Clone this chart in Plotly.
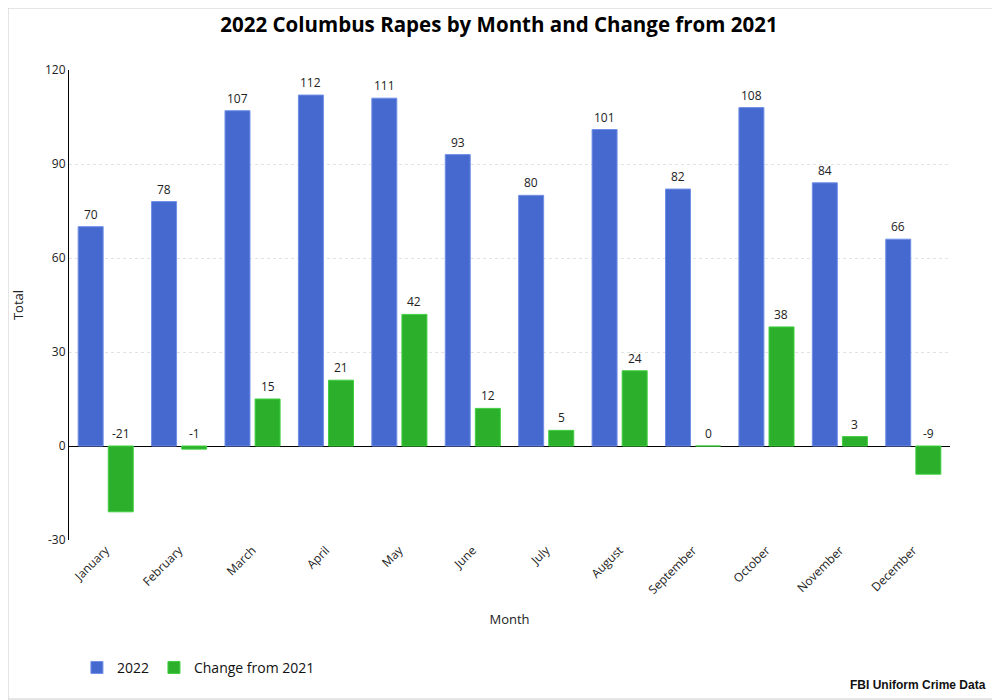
import plotly.graph_objects as go

months = ["January", "February", "March", "April", "May", "June", "July",
          "August", "September", "October", "November", "December"]
totals_2022 = [70, 78, 107, 112, 111, 93, 80, 101, 82, 108, 84, 66]
change_2021 = [-21, -1, 15, 21, 42, 12, 5, 24, 0, 38, 3, -9]
y_ticks = [-30, 0, 30, 60, 90, 120]
y_tick_labels = ["-30", "0", "30", "60", "90", "120"]

FONT = "Open Sans, Noto Sans, sans-serif"

fig = go.Figure()
fig.add_trace(go.Bar(
    x=months, y=totals_2022, name="2022",
    marker=dict(color="#4669cf", line=dict(color="#6f8fe6", width=1)),
    hoverinfo="x+y",
))
fig.add_trace(go.Bar(
    x=months, y=change_2021, name="Change from 2021",
    marker=dict(color="#2cb02c", line=dict(color="#3fcf3f", width=1)),
    hoverinfo="x+y",
))

# value labels above bars (labels for negative values sit above zero)
for m, v in zip(months, totals_2022):
    fig.add_annotation(x=m, y=max(v, 0), text=str(v), xref="x", yref="y",
                       xshift=-15, yshift=2, yanchor="bottom", showarrow=False,
                       font=dict(family=FONT, size=12, color="#222"))
for m, v in zip(months, change_2021):
    fig.add_annotation(x=m, y=max(v, 0), text=str(v), xref="x", yref="y",
                       xshift=15, yshift=2, yanchor="bottom", showarrow=False,
                       font=dict(family=FONT, size=12, color="#222"))

fig.add_annotation(x=1, y=0, xref="paper", yref="paper", xanchor="right",
                   yanchor="bottom", xshift=38, yshift=-154,
                   text="<b>FBI Uniform Crime Data</b>", showarrow=False,
                   font=dict(family="Liberation Sans, Arial, sans-serif", size=12, color="#111"))

fig.add_shape(type="rect", xref="paper", yref="paper", x0=-0.0692, x1=1.0556,
              y0=-0.3383, y1=1.1319, line=dict(color="#cccccc", width=1), layer="below")

fig.update_layout(
    width=1000, height=700,
    margin=dict(l=61, r=58, t=62, b=168, autoexpand=False),
    paper_bgcolor="white", plot_bgcolor="white",
    barmode="group", bargap=0.18, bargroupgap=0.17,
    title=dict(text="<b>2022 Columbus Rapes by Month and Change from 2021</b>",
               x=0.491, xanchor="center", y=0.976, yanchor="middle",
               font=dict(family=FONT, size=20.5, color="#000")),
    font=dict(family=FONT, size=12, color="#222"),
    xaxis=dict(title=dict(text="Month", font=dict(size=13), standoff=18),
               tickangle=-45, showgrid=False, showline=False, ticks=""),
    yaxis=dict(title=dict(text="Total", font=dict(size=13), standoff=18),
               range=[-30, 120], tickvals=y_ticks, ticktext=y_tick_labels,
               showgrid=True, gridcolor="#e3e3e3", griddash="dot",
               zeroline=True, zerolinecolor="#000", zerolinewidth=1,
               showline=True, linecolor="#000", linewidth=1, ticks=""),
    legend=dict(orientation="h", x=0.009, xanchor="left", y=-0.238, yanchor="top",
                font=dict(family=FONT, size=14, color="#111")),
    showlegend=True,
)

fig.write_html("out.html")
